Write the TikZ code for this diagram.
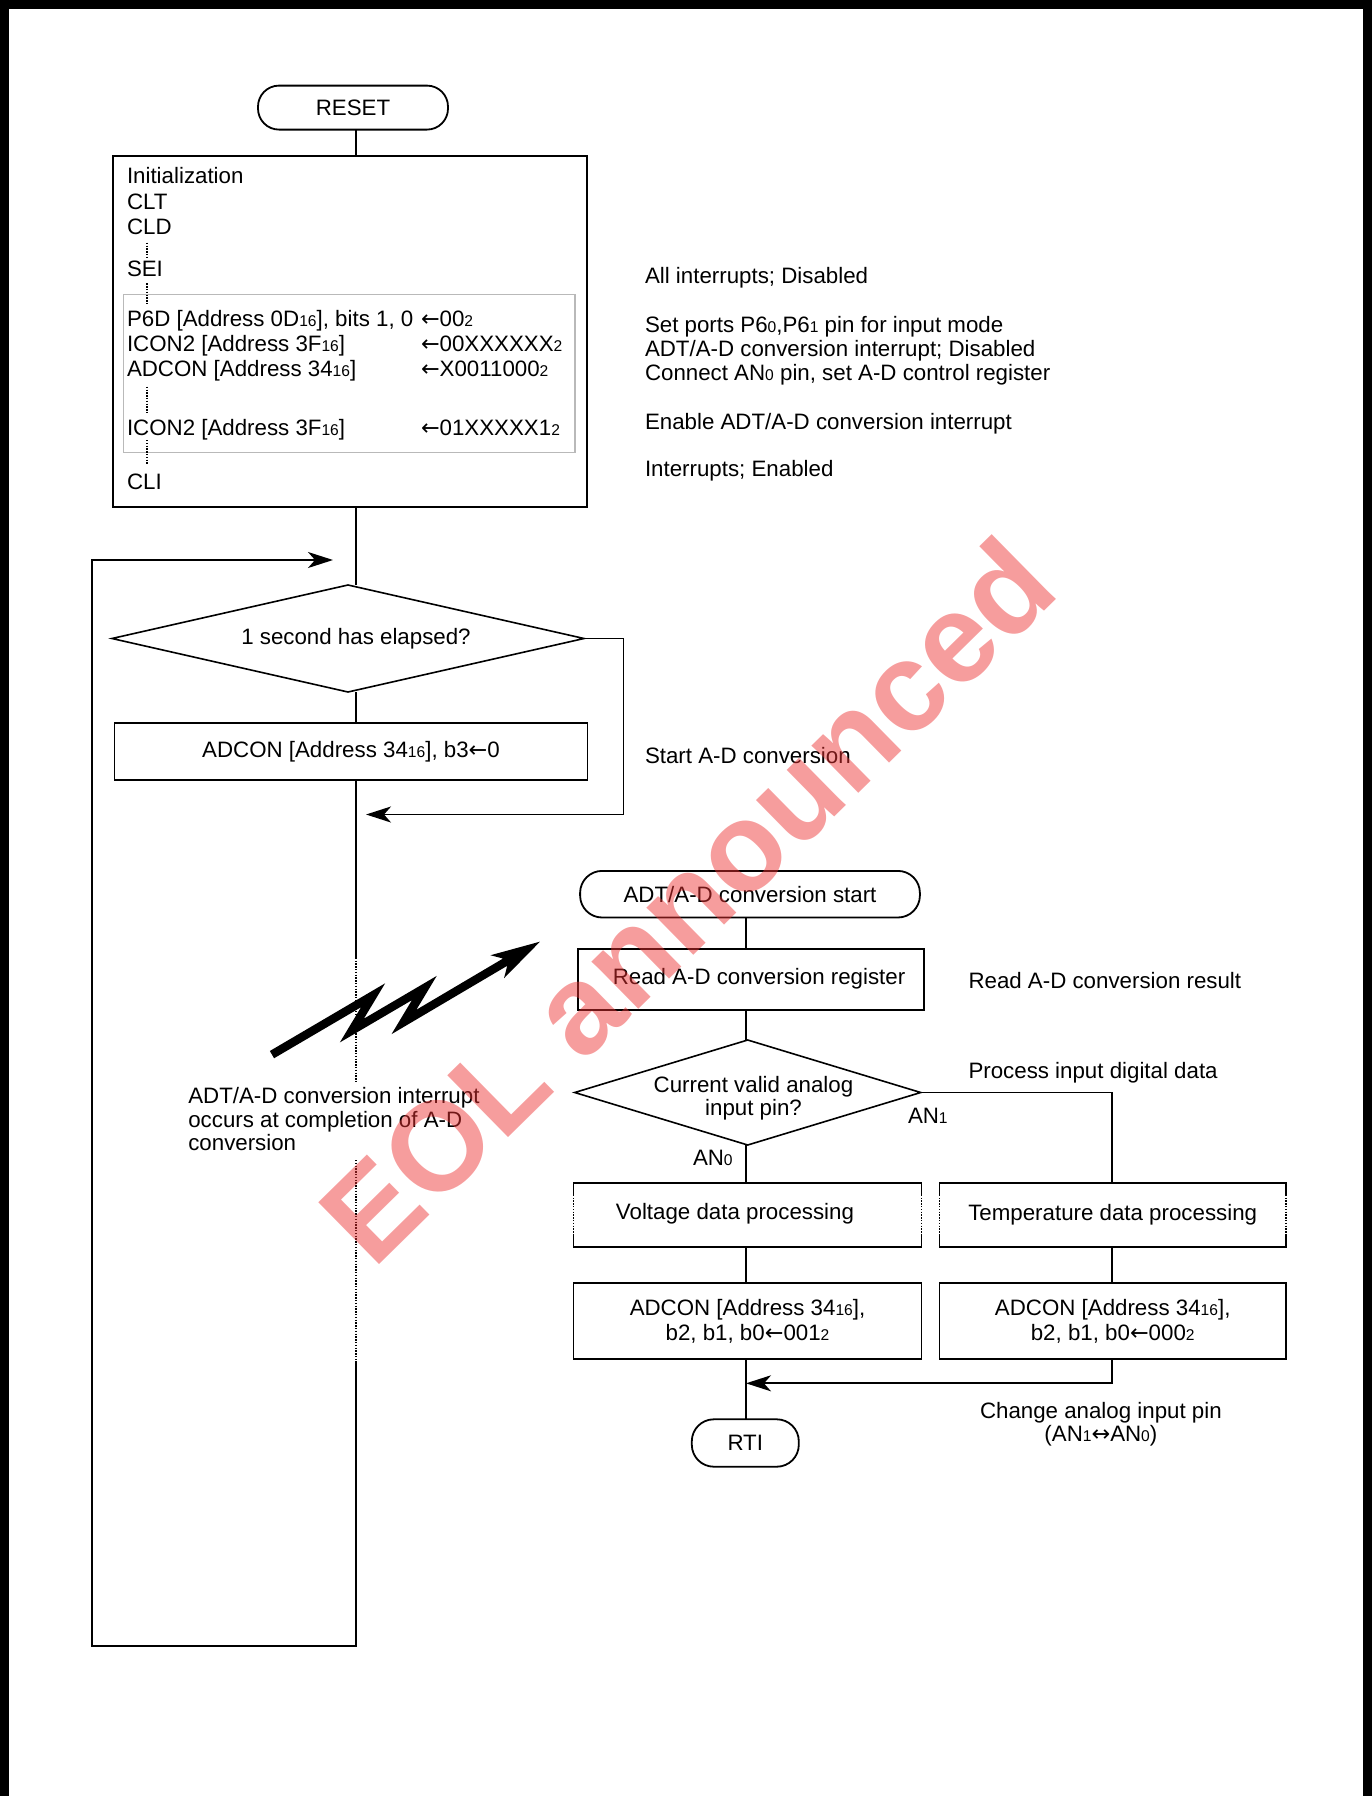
\documentclass[tikz,border=0pt]{standalone}
\usepackage{fontspec}
\setmainfont{Liberation Sans}
\newfontfamily\arrowfont{DejaVu Sans}
\usetikzlibrary{arrows.meta,shapes.geometric}
\newcommand\smsub[1]{{\fontsize{15.6}{15.6}\selectfont #1}}
\newcommand\larr{{\arrowfont ←}}
\newcommand\lrarr{{\arrowfont ↔}}
\definecolor{wm}{RGB}{236,50,50}
\begin{document}
\begin{tikzpicture}[x=1pt,y=-1pt,
  font=\fontsize{22.3}{25}\selectfont,
  line width=1.8pt,
  every node/.style={inner sep=0pt, outer sep=0pt},
  box/.style={draw, rectangle, line width=1.8pt},
  term/.style={draw, rectangle, rounded corners=21pt, line width=1.8pt},
  dia/.style={draw, diamond, line width=1.6pt},
  txt/.style={anchor=base west},
  ctxt/.style={anchor=base},
  flow/.style={line width=1.8pt},
  dots/.style={line width=1.4pt, dash pattern=on 1.4pt off 1.4pt},
  arr/.style={-{Stealth[length=25pt,width=16pt,inset=7pt]}},
]
\useasboundingbox (0,0) rectangle (1372,1796);
% outer frame
\draw[line width=9pt] (4.5,1810) -- (4.5,4.5) -- (1367.5,4.5) -- (1367.5,1810);

% ---------- initialization ----------
\node[term, minimum width=190pt, minimum height=44pt] (reset) at (353,107.6) {RESET};
\node[box, minimum width=473.4pt, minimum height=351.3pt] (init) at (350,331.65) {};
\node[draw=gray!55, line width=1.3pt, minimum width=451.7pt, minimum height=158.4pt] (grp) at (349.15,373.5) {};
\coordinate (mx) at (356,0);
\draw[flow] (reset.south -| mx) -- (init.north -| mx);

\node[txt] (i1) at (127,183.3) {Initialization};
\node[txt] (i2) at (127,209.3) {CLT};
\node[txt] (i3) at (127,234) {CLD};
\node[txt] (i4) at (127,276.7) {SEI};
\node[txt] (i5) at (127,326.7) {P6D [Address 0D\smsub{16}], bits 1, 0};
\node[txt] (i5v) at (421,326.7) {\larr 00\smsub{2}};
\node[txt] (i6) at (127,351.7) {ICON2 [Address 3F\smsub{16}]};
\node[txt] (i6v) at (421,351.7) {\larr 00XXXXXX\smsub{2}};
\node[txt] (i7) at (127,376) {ADCON [Address 34\smsub{16}]};
\node[txt] (i7v) at (421,376) {\larr X0011000\smsub{2}};
\node[txt] (i8) at (127,435) {ICON2 [Address 3F\smsub{16}]};
\node[txt] (i8v) at (421,435) {\larr 01XXXXX1\smsub{2}};
\node[txt] (i9) at (127,489.3) {CLI};
\draw[dots] (147,242.7) -- (147,258.3);
\draw[dots] (147,283.3) -- (147,303.3);
\draw[dots] (147,386.7) -- (147,413.3);
\draw[dots] (147,440) -- (147,465);

\node[txt] (c1) at (645,283.3) {All interrupts; Disabled};
\node[txt] (c2) at (645,332.7) {Set ports P6\smsub{0},P6\smsub{1} pin for input mode};
\node[txt] (c3) at (645,356.7) {ADT/A-D conversion interrupt; Disabled};
\node[txt] (c4) at (645,380) {Connect AN\smsub{0} pin, set A-D control register};
\node[txt] (c5) at (645,429.3) {Enable ADT/A-D conversion interrupt};
\node[txt] (c6) at (645,476) {Interrupts; Enabled};

% ---------- main loop ----------
\node[dia, minimum width=472pt, minimum height=107pt] (dia1) at (348,638.5) {};
\node (dia1t) at (356,638.5) {1 second has elapsed?};
\draw[flow] (init.south -| mx) -- (dia1.north -| mx);
\node[box, minimum width=473pt, minimum height=56.7pt] (adc1) at (351,751.3) {ADCON [Address 34\smsub{16}], b3\larr 0};
\draw[flow] (dia1.south -| mx) -- (adc1.north -| mx);
\node[txt] (c7) at (645,763) {Start A-D conversion};

\coordinate (rA) at (623.5,638.5);
\coordinate (rB) at (623.5,814.5);
\coordinate (rArr) at (366,814.5);
\draw[flow,arr] (dia1.east) -- (rA) -- (rB) -- (rArr);

\coordinate (mA) at (356,957.7);
\coordinate (mB) at (356,1083);
\coordinate (mC) at (356,1160);
\coordinate (mD) at (356,1361);
\coordinate (mE) at (356,1645.6);
\coordinate (lE) at (91.6,1645.6);
\coordinate (lT) at (91.6,560);
\coordinate (lArr) at (333,560);
\draw[flow] (adc1.south -| mx) -- (mA);
\draw[dots] (mA) -- (mB);
\draw[dots] (mC) -- (mD);
\draw[flow,arr] (mD) -- (mE) -- (lE) -- (lT) -- (lArr);

\node[txt] (n1) at (188.3,1103.3) {ADT/A-D conversion interrupt};
\node[txt] (n2) at (188.3,1127) {occurs at completion of A-D};
\node[txt] (n3) at (188.3,1150.7) {conversion};

% lightning bolt
\filldraw[line width=2.4pt, line join=miter, miter limit=6] (271.5,1051.4) -- (381.7,986.7) -- (360.4,1022.1) -- (433.3,979.3) -- (412.9,1013.2)
  -- (506.1,958.1) -- (495.1,955.2) -- (536,944) -- (506.3,974.2) -- (509.1,963.3)
  -- (395,1030.7) -- (415.4,996.7) -- (343.3,1039) -- (364.5,1003.8) -- (274.5,1056.6) -- cycle;

% ---------- interrupt routine ----------
\coordinate (rx) at (746,0);
\coordinate (tx) at (1112,0);
\node[term, minimum width=339.8pt, minimum height=46.6pt, rounded corners=22pt] (start) at (750,894.2) {ADT/A-D conversion start};
\node[box, minimum width=345.8pt, minimum height=60.7pt] (read) at (750.9,979.7) {};
\node (readt) at (759,979) {Read A-D conversion register};
\draw[flow] (start.south -| rx) -- (read.north -| rx);
\node[txt] (c8) at (968.5,988.3) {Read A-D conversion result};

\node[dia, minimum width=346pt, minimum height=105pt] (dia2) at (747.7,1092.5) {};
\node[align=center, font=\fontsize{22.3}{23}\selectfont] (dia2t) at (753.5,1098) {Current valid analog\\input pin?};
\draw[flow] (read.south -| rx) -- (dia2.north -| rx);
\node[txt] (c9) at (968.5,1078.3) {Process input digital data};
\node[txt] (an1) at (908,1123) {AN\smsub{1}};
\node[txt] (an0) at (693,1165) {AN\smsub{0}};

\node[minimum width=348pt, minimum height=64.3pt] (volt) at (747.5,1214.9) {};
\node (voltt) at (735,1214) {Voltage data processing};
\node[minimum width=346.5pt, minimum height=64.3pt] (temp) at (1112.7,1214.9) {Temperature data processing};
\foreach \b in {volt,temp}{
  \draw[flow] ([yshift=-12pt]\b.north west) -- (\b.north west) -- (\b.north east) -- ([yshift=-12pt]\b.north east);
  \draw[flow] ([yshift=12pt]\b.south west) -- (\b.south west) -- (\b.south east) -- ([yshift=12pt]\b.south east);
  \draw[dots] ([yshift=-12pt]\b.north west) -- ([yshift=12pt]\b.south west);
  \draw[dots] ([yshift=-12pt]\b.north east) -- ([yshift=12pt]\b.south east);
}
\draw[flow] (dia2.south -| rx) -- (volt.north -| rx);
\draw[flow] (dia2.east) -- (dia2.east -| tx) -- (temp.north -| tx);

\node[box, minimum width=348pt, minimum height=75.7pt, align=center, font=\fontsize{22.3}{24.3}\selectfont] (adc2) at (747.5,1321.2) {ADCON [Address 34\smsub{16}],\\b2, b1, b0\larr 001\smsub{2}};
\node[box, minimum width=346.5pt, minimum height=75.7pt, align=center, font=\fontsize{22.3}{24.3}\selectfont] (adc3) at (1112.7,1321.2) {ADCON [Address 34\smsub{16}],\\b2, b1, b0\larr 000\smsub{2}};
\draw[flow] (volt.south -| rx) -- (adc2.north -| rx);
\draw[flow] (temp.south -| tx) -- (adc3.north -| tx);

\node[term, minimum width=107pt, minimum height=47.4pt, rounded corners=22pt] (rti) at (745.3,1443) {RTI};
\draw[flow] (adc2.south -| rx) -- (rti.north -| rx);
\coordinate (mg) at (1112,1383.3);
\draw[flow,arr] (adc3.south -| tx) -- (mg) -- (mg -| rx);
\node[ctxt] (c10) at (1100.9,1418.3) {Change analog input pin};
\node[ctxt] (c11) at (1100.9,1441.7) {(AN\smsub{1}\lrarr AN\smsub{0})};

% watermark
\node[rotate=44.5, text=wm, opacity=0.48, font=\fontsize{126}{126}\selectfont\bfseries] (wmk) at (686,900) {EOL announced};
\end{tikzpicture}
\end{document}
